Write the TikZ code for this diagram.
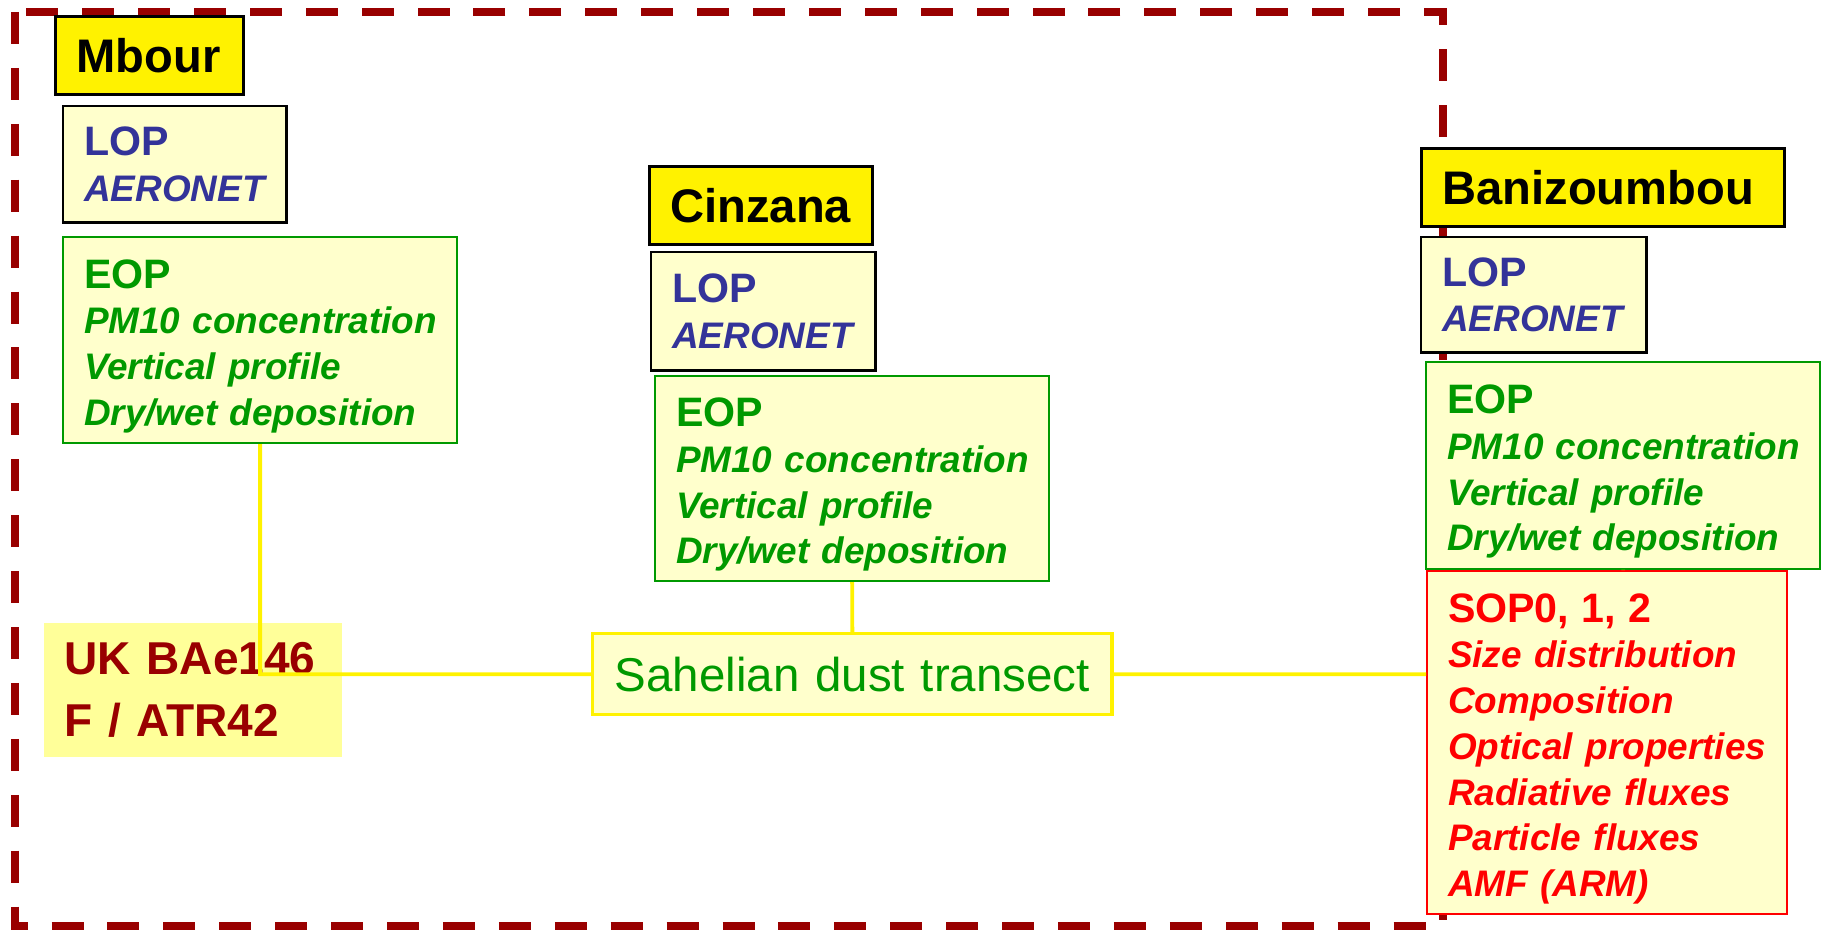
\documentclass[tikz,border=0pt]{standalone}
\usepackage{fontspec}
\setmainfont{Liberation Sans}
\usepackage{xcolor}
\usepackage{tikz}
\usetikzlibrary{positioning}

\definecolor{framered}{HTML}{990000}
\definecolor{lopblue}{HTML}{333399}
\definecolor{eopgreen}{HTML}{009900}
\definecolor{paleyellow}{HTML}{FFFFCC}
\definecolor{ukfill}{HTML}{FFFF99}

\newcommand{\boxhead}[1]{{\fontsize{11.7pt}{13pt}\selectfont\upshape #1}}
\newcommand{\itemfont}{\fontsize{10.5pt}{13pt}\selectfont\bfseries\itshape}

\begin{document}
\begin{tikzpicture}[
    x=0.01cm, y=-0.01cm,
    every node/.style={anchor=north west, inner sep=0pt, align=left},
    padded/.style={execute at begin node={\leftskip=0.21cm}},
    tallpadded/.style={execute at begin node={\leftskip=0.21cm\rule{0pt}{11.7pt}}},
    site/.style={padded, draw=black, line width=0.85pt, fill=yellow,
                 font=\fontsize{13.4pt}{16pt}\selectfont\bfseries},
    lop/.style={padded, draw=black, line width=0.7pt, fill=paleyellow, text=lopblue, font=\itemfont},
    eop/.style={tallpadded, draw=eopgreen, line width=0.6pt, fill=paleyellow, text=eopgreen, font=\itemfont},
    sop/.style={tallpadded, draw=red, line width=0.6pt, fill=paleyellow, text=red, font=\itemfont},
    plane/.style={padded, fill=ukfill, text=framered,
                  font=\fontsize{13.1pt}{17.6pt}\selectfont\bfseries},
    transect/.style={draw=yellow, line width=0.95pt, fill=paleyellow, text=eopgreen,
                     align=center, font=\fontsize{13.5pt}{16pt}\selectfont},
    link/.style={draw=yellow, line width=1.1pt},
    frame/.style={draw=framered, line width=2.3pt, dash pattern=on 9.1pt off 6.8pt}
  ]
  \useasboundingbox (0,0) rectangle (1824,931);
  \draw[frame] (15,12) rectangle (1443,926);

  \node[plane, text width=2.98cm, minimum height=1.34cm] (uk) at (43,622)
    {UK BAe146\\F / ATR42};

  \node[site, text width=1.88cm, minimum height=0.78cm] (mbour) at (54,15) {Mbour};
  \node[lop, text width=2.23cm, minimum height=1.16cm] (mlop) at (62,105)
    {\boxhead{LOP}\\AERONET};
  \node[eop, text width=3.94cm, minimum height=2.06cm] (meop) at (62,236)
    {\boxhead{EOP}\\PM10 concentration\\Vertical profile\\Dry/wet deposition};

  \node[site, text width=2.23cm, minimum height=0.78cm] (cinzana) at (648,165) {Cinzana};
  \node[lop, text width=2.24cm, minimum height=1.18cm] (clop) at (650,251)
    {\boxhead{LOP}\\AERONET};
  \node[eop, text width=3.94cm, minimum height=2.05cm] (ceop) at (654,375)
    {\boxhead{EOP}\\PM10 concentration\\Vertical profile\\Dry/wet deposition};

  \node[site, text width=3.63cm, minimum height=0.78cm] (bani) at (1420,147) {Banizoumbou};
  \node[lop, text width=2.25cm, minimum height=1.15cm] (blop) at (1420,236)
    {\boxhead{LOP}\\AERONET};
  \node[eop, text width=3.94cm, minimum height=2.07cm] (beop) at (1425,361)
    {\boxhead{EOP}\\PM10 concentration\\Vertical profile\\Dry/wet deposition};
  \node[sop, text width=3.60cm, minimum height=3.43cm] (sop) at (1426,570)
    {\boxhead{SOP0, 1, 2}\\Size distribution\\Composition\\Optical properties\\Radiative fluxes\\Particle fluxes\\AMF (ARM)};

  \node[transect, text width=5.19cm, minimum height=0.81cm] (dust) at (591,632)
    {Sahelian dust transect};

  \draw[link] (meop.south) |- (dust.west)
              (ceop.south) -- (dust.north)
              (dust.east) -- (dust.east -| sop.west)
              (beop.south) -- (beop.south |- sop.north);
\end{tikzpicture}
\end{document}
